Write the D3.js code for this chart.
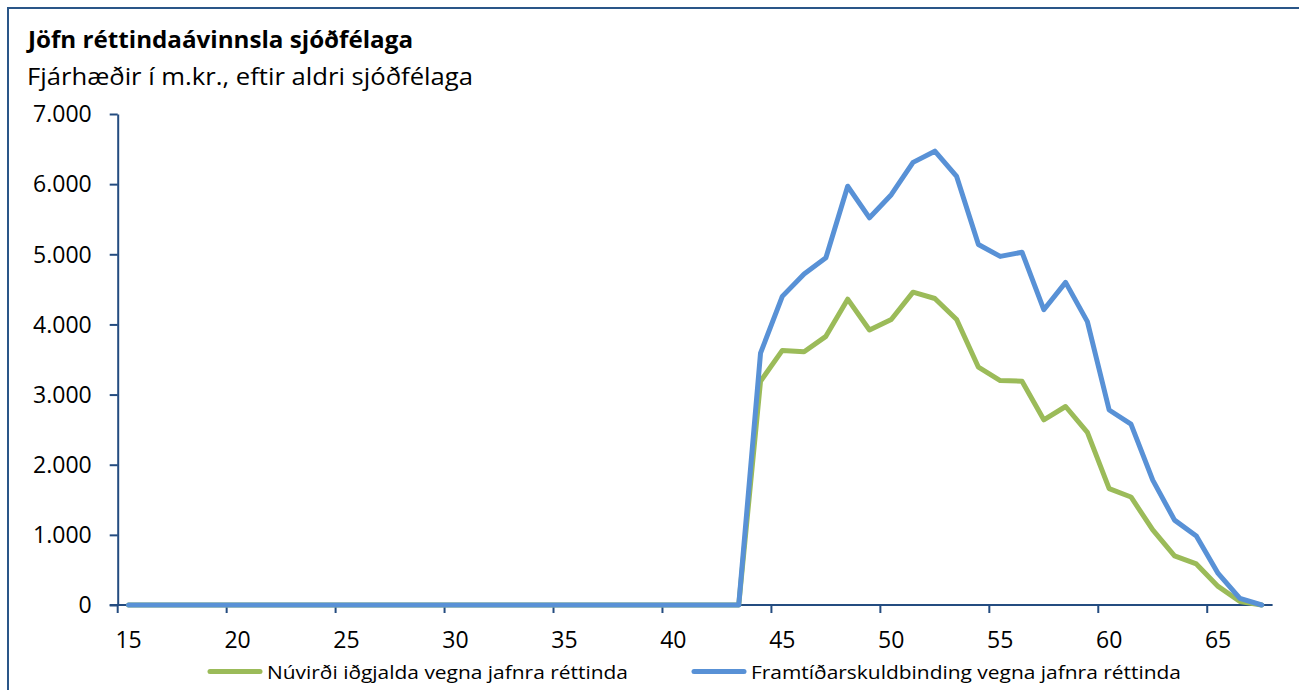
<!DOCTYPE html>
<html>
<head>
<meta charset="utf-8">
<script src="https://cdn.jsdelivr.net/npm/d3@7"></script>
<style>
  body { margin: 0; background: #fff; }
  text { font-family: "Open Sans", Lato, sans-serif; fill: #000; }
</style>
</head>
<body>
<svg id="chart"></svg>
<script>
// ages (categories) and the two series, values in m.kr.
var ages = [15, 16, 17, 18, 19, 20, 21, 22, 23, 24, 25, 26, 27, 28, 29, 30, 31, 32, 33, 34,
            35, 36, 37, 38, 39, 40, 41, 42, 43, 44, 45, 46, 47, 48, 49, 50, 51, 52, 53, 54,
            55, 56, 57, 58, 59, 60, 61, 62, 63, 64, 65, 66, 67];

var nuvirdi = [0, 0, 0, 0, 0, 0, 0, 0, 0, 0, 0, 0, 0, 0, 0, 0, 0, 0, 0, 0,
               0, 0, 0, 0, 0, 0, 0, 0, 0,
               3190, 3630, 3610, 3830, 4360, 3920, 4070, 4460, 4370, 4070, 3390,
               3200, 3190, 2640, 2830, 2460, 1660, 1540, 1070, 700, 585, 265, 50, 0];

var framtid = [0, 0, 0, 0, 0, 0, 0, 0, 0, 0, 0, 0, 0, 0, 0, 0, 0, 0, 0, 0,
               0, 0, 0, 0, 0, 0, 0, 0, 0,
               3590, 4400, 4720, 4950, 5970, 5520, 5850, 6310, 6470, 6110, 5140,
               4970, 5030, 4210, 4600, 4040, 2780, 2580, 1780, 1210, 985, 450, 95, 0];

var xTickAges = [15, 20, 25, 30, 35, 40, 45, 50, 55, 60, 65];
var yTicks = [0, 1000, 2000, 3000, 4000, 5000, 6000, 7000];

var seriesNames = ["Núvirði iðgjalda vegna jafnra réttinda",
                   "Framtíðarskuldbinding vegna jafnra réttinda"];
var seriesColors = ["#9bbb59", "#5891d6"];

var title = "Jöfn réttindaávinnsla sjóðfélaga";
var subtitle = "Fjárhæðir í m.kr., eftir aldri sjóðfélaga";

var W = 1299, H = 690;
var axisColor = "#244c80";

var svg = d3.select("#chart").attr("width", W).attr("height", H);

// frame of the chart area
svg.append("path")
    .attr("d", "M8," + H + "V8H" + W)
    .attr("fill", "none")
    .attr("stroke", "#2a5688")
    .attr("stroke-width", 2);

// give a text the width it has in the reference
function fit(sel, w) {
    sel.attr("textLength", w).attr("lengthAdjust", "spacingAndGlyphs");
}

var t = svg.append("text").attr("x", 28).attr("y", 48)
    .style("font-weight", "bold").style("font-size", "23.5px").text(title);
fit(t, 385);

var st = svg.append("text").attr("x", 27).attr("y", 85)
    .style("font-size", "24px").text(subtitle);
fit(st, 446);

var x = d3.scaleBand().domain(ages).range([117.7, 1272.6]);
var y = d3.scaleLinear().domain([0, 7000]).range([605, 114]);

var fmt = d3.formatLocale({ decimal: ",", thousands: ".", grouping: [3], currency: ["", ""] }).format(",d");

// y axis
var yAxis = d3.axisLeft(y).tickValues(yTicks).tickFormat(fmt)
    .tickSize(8).tickSizeOuter(0).tickPadding(18);
var gy = svg.append("g").attr("transform", "translate(117.7,0)").call(yAxis);
gy.select(".domain").attr("stroke", axisColor).attr("stroke-width", 2);
gy.selectAll(".tick line").attr("stroke", axisColor).attr("stroke-width", 2);
gy.selectAll(".tick text")
    .style("font-family", "'Open Sans', Lato, sans-serif")
    .style("font-size", "23px").attr("fill", "#000").attr("dy", "0.34em");

// x axis: ticks between categories, labels centred in categories
var gx = svg.append("g");
gx.append("line")
    .attr("x1", x(15) - 8).attr("x2", x.range()[1])
    .attr("y1", y(0)).attr("y2", y(0))
    .attr("stroke", axisColor).attr("stroke-width", 2);
gx.selectAll(".xtick").data(xTickAges).enter().append("line")
    .attr("x1", d => x(d)).attr("x2", d => x(d))
    .attr("y1", y(0)).attr("y2", y(0) + 8)
    .attr("stroke", axisColor).attr("stroke-width", 2);
gx.selectAll(".xlab").data(xTickAges).enter().append("text")
    .attr("x", d => x(d) + x.bandwidth() / 2)
    .attr("y", 648)
    .attr("text-anchor", "middle")
    .style("font-size", "23px")
    .text(d => d);

// lines
var line = d3.line()
    .x((d, i) => x(ages[i]) + x.bandwidth() / 2)
    .y(d => y(d));

[nuvirdi, framtid].forEach(function(s, k) {
    svg.append("path")
        .datum(s)
        .attr("d", line)
        .attr("fill", "none")
        .attr("stroke", seriesColors[k])
        .attr("stroke-width", 5)
        .attr("stroke-linejoin", "round")
        .attr("stroke-linecap", "round");
});

// legend
var legX = [210, 694], legW = [361, 430];
seriesNames.forEach(function(n, k) {
    svg.append("line")
        .attr("x1", legX[k]).attr("x2", legX[k] + 50)
        .attr("y1", 671.5).attr("y2", 671.5)
        .attr("stroke", seriesColors[k]).attr("stroke-width", 5)
        .attr("stroke-linecap", "round");
    var lt = svg.append("text")
        .attr("x", legX[k] + 57).attr("y", 678.5)
        .style("font-size", "19px").text(n);
    fit(lt, legW[k]);
});
</script>
</body>
</html>
